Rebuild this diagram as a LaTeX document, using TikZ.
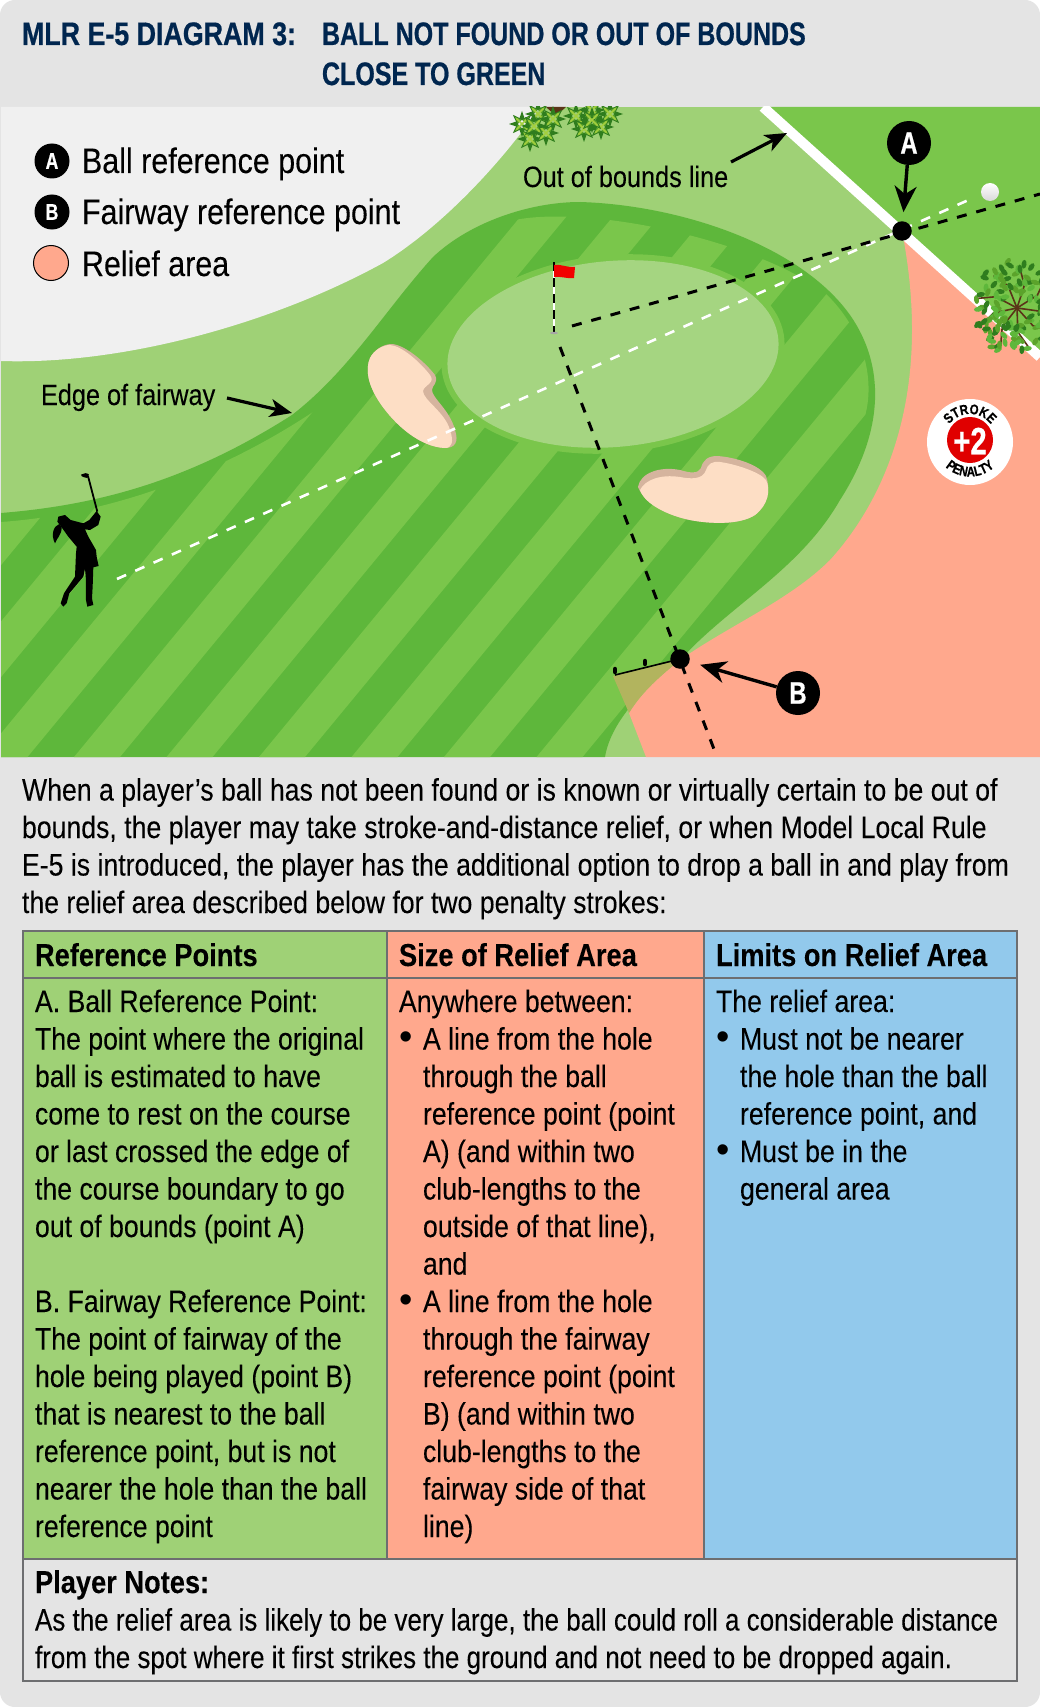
\documentclass[tikz,border=0pt]{standalone}
\usepackage{fontspec}
\usetikzlibrary{arrows.meta,decorations.text,calc}
\setmainfont{Liberation Sans}[FakeStretch=0.86,FakeBold=0.12]
\newfontfamily\bulfont{Liberation Sans}
\newfontfamily\notefont{Liberation Sans}[FakeStretch=0.838,FakeBold=0.12]
\newfontfamily\ttlfont{Liberation Sans}[FakeStretch=0.77,BoldFeatures={FakeBold=0.6}]
\newfontfamily\ttlafont{Liberation Sans}[FakeStretch=0.825,BoldFeatures={FakeBold=0.6}]
\definecolor{pagebg}{HTML}{E4E4E4}
\definecolor{offw}{HTML}{F0F0F0}
\definecolor{rough}{HTML}{9FD176}
\definecolor{fwdark}{HTML}{5EB73B}
\definecolor{fwlight}{HTML}{7AC64B}
\definecolor{greenc}{HTML}{A5D581}
\definecolor{relief}{HTML}{FFA88D}
\definecolor{sky}{HTML}{92C9EC}
\definecolor{rulec}{HTML}{6D6E70}
\definecolor{navy}{HTML}{00264F}
\definecolor{sand}{HTML}{FDDEC5}
\definecolor{sandd}{HTML}{D5B49E}
\definecolor{tanov}{HTML}{B2B45E}
\definecolor{leafD}{HTML}{2F7D1E}
\definecolor{leafM}{HTML}{5BA32B}
\definecolor{leafL}{HTML}{A4CF3E}
\definecolor{bark}{HTML}{5A3418}
\definecolor{redb}{HTML}{E00000}
\newcommand\bul{\makebox[24pt][l]{{\bulfont\fontsize{38}{37.5}\selectfont •}}}
\newcommand\ind{\hspace*{24pt}}
\newcommand\rosette[2]{%
  \foreach \a in {0,45,...,315}{\fill[leafD] (#1,#2) +(\a-40:5) -- +(\a:13) -- +(\a+40:5) -- cycle;}
  \foreach \a in {45,135,225,315}{\fill[leafM] (#1,#2) +(\a-40:4) -- +(\a:10.5) -- +(\a+40:4) -- cycle;}
  \draw[leafL,line width=1.7pt] (#1,#2) +(45:8) -- +(225:8) +(135:8) -- +(315:8);}
\tikzset{
  txt/.style={anchor=base west,inner sep=0pt,outer sep=0pt,align=left,font=\fontsize{31}{37.5}\selectfont},
  notetxt/.style={txt,font=\notefont\fontsize{31}{37.5}\selectfont},
  hdr/.style={txt,font=\bfseries\fontsize{31.7}{37.5}\selectfont},
  ttl/.style={txt,text=navy,font=\ttlfont\bfseries\fontsize{32.5}{40}\selectfont},
  ttla/.style={txt,text=navy,font=\ttlafont\bfseries\fontsize{32.5}{40}\selectfont},
  legendtxt/.style={txt,font=\fontsize{35.4}{40}\selectfont},
  callout/.style={txt,font=\fontsize{29.4}{34}\selectfont},
  arrowline/.style={line width=3.2pt,-{Stealth[length=22pt,width=18pt,inset=6pt]}},
  arrowbig/.style={line width=3.4pt,-{Stealth[length=26pt,width=22pt,inset=8pt]}},
  badgesm/.style={circle,fill=black,text=white,inner sep=0pt,minimum size=35pt,font=\ttlfont\bfseries\fontsize{23}{23}\selectfont},
  badgelg/.style={circle,fill=black,text=white,inner sep=0pt,minimum size=44pt,font=\ttlfont\bfseries\fontsize{31}{31}\selectfont},
  refpt/.style={circle,fill=black,inner sep=0pt,minimum size=19.5pt},
  blackdash/.style={black,line width=3pt,dash pattern=on 10pt off 10pt},
  whitedash/.style={white,line width=2.6pt,dash pattern=on 10pt off 10pt},
  cell/.style={draw=rulec,line width=2.3pt},
}
\begin{document}
\begin{tikzpicture}[x=1pt,y=-1pt]
\useasboundingbox (0,0) rectangle (1040,1707);
\fill[white] (0,0) rectangle (1040,1707);
\fill[pagebg,rounded corners=15pt] (0,0) rectangle (1040,1707);
% title
\node[ttla] (t1) at (22,45) {MLR E-5 DIAGRAM 3:};
\node[ttl] (t2) at (322,45) {BALL NOT FOUND OR OUT OF BOUNDS};
\node[ttl] (t3) at (322,85) {CLOSE TO GREEN};
% scene
\begin{scope}
\clip (1,107) rectangle (1040,757);
\fill[rough] (1,107) rectangle (1040,757);
\fill[offw] (1,361) .. controls (120,365) and (270,325) .. (383,263) .. controls (440,228) and (500,165) .. (540,107) -- (1,107) -- cycle;
% fairway
\fill[fwdark] (1,513) .. controls (100,505) and (190,480) .. (292,415) .. controls (350,370) and (385,310) .. (433,257) .. controls (470,222) and (530,202) .. (580,202) .. controls (680,205) and (800,245) .. (850,315) .. controls (885,365) and (885,430) .. (840,500) .. controls (800,570) and (730,605) .. (680,660) .. controls (640,690) and (610,725) .. (605,757) -- (1,757) -- cycle;
\begin{scope}
\clip (1,522) .. controls (100,515) and (210,480) .. (313,412) .. controls (370,360) and (430,250) .. (515,220) .. controls (590,205) and (755,240) .. (825,293) .. controls (875,340) and (880,410) .. (850,445) .. controls (825,500) and (760,580) .. (680,660) .. controls (640,690) and (610,725) .. (605,757) -- (1,757) -- cycle;
\foreach \k in {-3,...,5}{
  \pgfmathsetmacro\xa{74+92.5*\k}
  \pgfmathsetmacro\xb{\xa+46}
  \fill[fwlight] (\xa,757) -- (\xb,757) -- (\xb+537,107) -- (\xa+537,107) -- cycle;
}
\end{scope}
% collar and green
\fill[fwlight,rotate around={5:(613,354)}] (613,354) ellipse [x radius=172,y radius=99];
\fill[greenc,rotate around={5:(613,354)}] (613,354) ellipse [x radius=166,y radius=93];
% bunkers
\fill[sandd] (392,344) .. controls (405,345) and (425,362) .. (435,375) .. controls (439,383) and (432,385) .. (432,390) .. controls (432,398) and (450,410) .. (455,430) .. controls (459,442) and (455,448) .. (445,448) .. controls (420,447) and (395,425) .. (380,403) .. controls (368,385) and (365,370) .. (370,358) .. controls (374,350) and (383,344) .. (392,344) -- cycle;
\fill[sand] (390,345) .. controls (402,346) and (420,362) .. (430,375) .. controls (436,383) and (424,385) .. (423,391) .. controls (423,400) and (445,412) .. (450,430) .. controls (454,442) and (452,448) .. (445,448) .. controls (420,447) and (395,425) .. (380,403) .. controls (368,385) and (365,370) .. (370,358) .. controls (374,350) and (383,345) .. (390,345) -- cycle;
\fill[sandd] (638,487) .. controls (640,473) and (660,466) .. (680,470) .. controls (690,473) and (698,474) .. (701,468) .. controls (703,460) and (708,456) .. (717,456) .. controls (735,457) and (760,465) .. (766,476) .. controls (771,490) and (768,505) .. (755,515) .. controls (740,525) and (710,524) .. (690,520) .. controls (670,516) and (645,505) .. (638,487) -- cycle;
\fill[sand] (640,490) .. controls (645,480) and (660,474) .. (680,477) .. controls (690,479) and (703,480) .. (706,470) .. controls (708,464) and (712,461) .. (720,462) .. controls (735,464) and (760,472) .. (766,480) .. controls (771,490) and (768,505) .. (755,515) .. controls (740,525) and (710,524) .. (690,520) .. controls (670,516) and (645,505) .. (640,490) -- cycle;
% relief area
\fill[relief] (902,231) -- (1040,357) -- (1040,757) -- (646,757) -- (629,713) .. controls (640,695) and (655,680) .. (680,660) .. controls (730,625) and (790,600) .. (830,560) .. controls (880,505) and (935,400) .. (902,231) -- cycle;
\fill[tanov] (680,660) -- (613,676) -- (629,713) .. controls (640,695) and (655,680) .. (680,660) -- cycle;
% beyond the boundary
\fill[fwlight] (763,107) -- (1040,357) -- (1040,107) -- cycle;
\draw[white,line width=10pt] (763,107) -- (1040,357);
% trees
\fill[bark] (546,107) -- (566,107) -- (556,116) -- cycle;
\rosette{522}{124}\rosette{538}{114}\rosette{530}{139}\rosette{546}{133}\rosette{553}{119}\rosette{534}{126}
\rosette{576}{116}\rosette{592}{110}\rosette{610}{114}\rosette{584}{129}\rosette{601}{127}\rosette{592}{120}
\foreach \a in {0,40,...,320}{\draw[bark,line width=1.6pt] (1017,308) -- +(\a+8:24) -- +(\a-6:40);}
\pgfmathsetseed{11}
\foreach \i in {1,...,150}{
  \pgfmathsetmacro\ang{360*rnd}
  \pgfmathsetmacro\rad{16+32*rnd}
  \pgfmathsetmacro\rot{360*rnd}
  \pgfmathtruncatemacro\cl{mod(\i,3)}
  \ifnum\cl=0\def\lc{leafD}\else\ifnum\cl=1\def\lc{leafM}\else\def\lc{fwdark}\fi\fi
  \fill[\lc,shift={(1017,308)},rotate=\ang,shift={(\rad,0)},rotate=\rot] (0,0) ellipse [x radius=4.4,y radius=2.5];
}
% ball
\shade[top color=white,bottom color=white!70!gray] (990,192) circle (9);
% dashed lines
\coordinate (golfer) at (117,579);
\coordinate (ballpos) at (973,198);
\coordinate (holeE) at (572,326);
\coordinate (holeS) at (560,347);
\coordinate (endE) at (1040,194);
\coordinate (endS) at (717,757);
\draw[whitedash] (golfer) -- (ballpos);
\draw[blackdash] (holeE) -- (endE);
\draw[blackdash] (holeS) -- (endS);
% flag
\draw[white,line width=2.6pt] (554,262) -- (554,333);
\draw[black,line width=2.2pt,dash pattern=on 9pt off 7pt] (554,262) -- (554,333);
\fill[gray!70] (554,333) ellipse [x radius=4,y radius=1.2];
\fill[red!95!black] (554,265) .. controls (562,264) and (568,268) .. (575,267) -- (574,278) .. controls (567,279) and (561,276) .. (554,277) -- cycle;
% club-length line
\coordinate (clubend) at (615,675);
% golfer
\begin{scope}[shift={(0,440)},x=0.3333pt,y=-0.3333pt]
\draw[black,line width=1.8pt] (264,108) -- (292,215);
\fill[black] (243,104) .. controls (250,98) and (262,98) .. (267,104) -- (262,114) .. controls (255,112) and (244,112) .. (243,104) -- cycle;
\fill[black] (290,213) -- (302,230) -- (295,255) -- (270,270) -- (255,268) -- (265,290) -- (288,330) -- (290,350) -- (296,378) -- (280,382) -- (278,440) -- (276,475) -- (280,495) -- (262,500) -- (258,480) -- (258,420) -- (255,385) -- (250,410) -- (225,440) -- (208,460) -- (200,490) -- (190,500) -- (182,490) -- (192,460) -- (205,440) -- (225,410) -- (228,340) -- (230,320) -- (205,290) -- (185,262) -- (172,245) -- (175,230) -- (195,225) -- (212,240) -- (250,250) -- (268,240) -- cycle;
\fill[black] (178,252) .. controls (160,258) and (152,285) .. (165,310) .. controls (170,295) and (185,285) .. (185,262) -- cycle;
\end{scope}
% badge
\begin{scope}[shift={(970,442)},x=1pt,y=1pt]
\fill[white] (0,0) circle (43);
\fill[redb] (0,2) circle (23);
\node[inner sep=0pt,text=white,font=\ttlfont\bfseries\fontsize{38}{38}\selectfont] (plustwo) at (0,1) {+2};
\path[decorate,decoration={text along path,text align=center,text={|\ttlafont\bfseries\fontsize{14}{15}\selectfont|STROKE}}] (-26,2) arc[start angle=180,end angle=0,radius=26];
\path[decorate,decoration={text along path,text align=center,text={|\ttlafont\bfseries\fontsize{14}{15}\selectfont|PENALTY}}] (-36.5,2) arc[start angle=180,end angle=360,radius=36.5];
\end{scope}
\end{scope}
% club-length ticks
\draw[black,line width=1.6pt] (clubend) -- (680,659);
\draw[black,line width=4.5pt,line cap=round] (615,672) -- (615,669);
\draw[black,line width=4.5pt,line cap=round] (645,664) -- (645,661);
% reference points and labels
\node[refpt] (ptA) at (902,231) {};
\node[refpt] (ptB) at (680,659) {};
\node[badgelg] (labA) at (909,143) {A};
\node[badgelg] (labB) at (798,693) {B};
\draw[arrowbig,shorten >=9pt] (labA) -- (ptA);
\draw[arrowbig,shorten >=11pt] (labB) -- (ptB);
% legend
\node[badgesm] (legA) at (52,161) {A};
\node[badgesm] (legB) at (52,212) {B};
\node[circle,fill=relief,draw=black,line width=1pt,inner sep=0pt,minimum size=35pt] (legR) at (51,263) {};
\node[legendtxt] (ltA) at (82,173) {Ball reference point};
\node[legendtxt] (ltB) at (82,224) {Fairway reference point};
\node[legendtxt] (ltR) at (82,276) {Relief area};
% callouts
\node[callout] (cfw) at (41,405) {Edge of fairway};
\coordinate (fwtip) at (292,413);
\draw[arrowline] (227,398) -- (fwtip);
\node[callout] (coob) at (523,187) {Out of bounds line};
\coordinate (oobtip) at (787,133);
\draw[arrowline] (731,162) -- (oobtip);
% intro
\node[txt] (intro) at (22,913) {When a player’s ball has not been found or is known or virtually certain to be out of\\bounds, the player may take stroke-and-distance relief, or when Model Local Rule\\E-5 is introduced, the player has the additional option to drop a ball in and play from\\the relief area described below for two penalty strokes:};
% table
\fill[rough] (23,931) rectangle (387,1559);
\fill[relief] (387,931) rectangle (704,1559);
\fill[sky] (704,931) rectangle (1017,1559);
\draw[cell] (23,931) rectangle (1017,1681);
\draw[cell] (23,978) -- (1017,978);
\draw[cell] (23,1559) -- (1017,1559);
\draw[cell] (387,931) -- (387,1559);
\draw[cell] (704,931) -- (704,1559);
\node[hdr] (h1) at (35,966) {Reference Points};
\node[hdr] (h2) at (399,966) {Size of Relief Area};
\node[hdr] (h3) at (716,966) {Limits on Relief Area};
\node[txt] (c1) at (35,1537) {A. Ball Reference Point:\\The point where the original\\ball is estimated to have\\come to rest on the course\\or last crossed the edge of\\the course boundary to go\\out of bounds (point A)\\~\\B. Fairway Reference Point:\\The point of fairway of the\\hole being played (point B)\\that is nearest to the ball\\reference point, but is not\\nearer the hole than the ball\\reference point};
\node[txt] (c2) at (399,1537) {Anywhere between:\\\bul A line from the hole\\\ind through the ball\\\ind reference point (point\\\ind A) (and within two\\\ind club-lengths to the\\\ind outside of that line),\\\ind and\\\bul A line from the hole\\\ind through the fairway\\\ind reference point (point\\\ind B) (and within two\\\ind club-lengths to the\\\ind fairway side of that\\\ind line)};
\node[txt] (c3) at (716,1199.5) {The relief area:\\\bul Must not be nearer\\\ind the hole than the ball\\\ind reference point, and\\\bul Must be in the\\\ind general area};
\node[hdr] (pn) at (35,1593) {Player Notes:};
\node[notetxt] (pt) at (35,1668) {As the relief area is likely to be very large, the ball could roll a considerable distance\\from the spot where it first strikes the ground and not need to be dropped again.};
\end{tikzpicture}
\end{document}
